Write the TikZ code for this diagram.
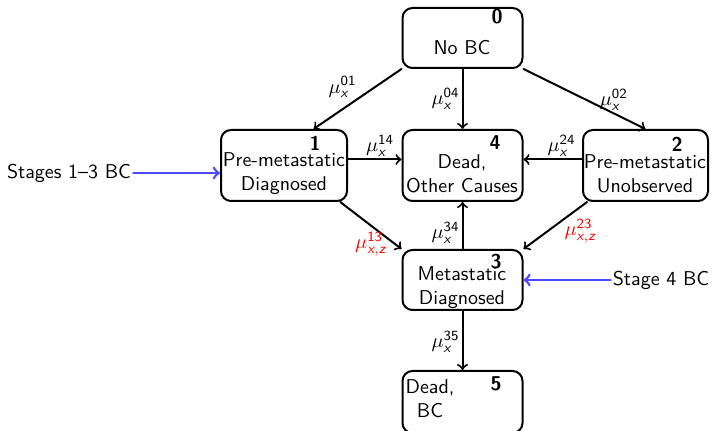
\documentclass[tikz,border=0pt]{standalone}
\usepackage{amsmath}
\tikzset{
  state/.style={draw, line width=1pt, rounded corners=5pt, minimum width=60pt, inner sep=0pt},
  txt/.style={align=center, font=\sffamily, inner sep=1pt},
  num/.style={font=\sffamily\bfseries, inner sep=1pt},
  rate/.style={font=\sffamily, inner sep=1pt},
  trans/.style={->, line width=1pt},
  entry/.style={->, line width=1.3pt, blue!70}
}
\newcommand{\sx}{\textsf{\itshape x}}
\newcommand{\sz}{\textsf{\itshape z}}
\newcommand{\rt}[2]{$\mu^{\textsf{#1}}_{#2}$}
\begin{document}
\begin{tikzpicture}[x=0.5pt, y=-0.5pt, line cap=round, line join=round]
    \useasboundingbox (0,0) rectangle (712,431);
    \node[state, minimum height=30pt] (s0) at (462.5,38) {};
    \node[state, minimum height=35.5pt, minimum width=63pt] (s1) at (284,165.5) {};
    \node[state, minimum height=35.5pt] (s4) at (462.5,165.5) {};
    \node[state, minimum height=35.5pt, minimum width=62.5pt] (s2) at (645.5,165.5) {};
    \node[state, minimum height=30pt] (s3) at (462.5,280) {};
    \node[state, minimum height=31pt] (s5) at (462.5,402) {};
    \node[txt] (t0) at (462,48) {No BC};
    \node[txt] (t1) at (284,174) {Pre-metastatic\\Diagnosed};
    \node[txt] (t4) at (462,174) {Dead,\\Other Causes};
    \node[txt] (t2) at (645,174) {Pre-metastatic\\Unobserved};
    \node[txt] (t3) at (462,288) {Metastatic\\Diagnosed};
    \node[txt] (t5) at (430,399) {Dead,\\BC};
    \foreach \n/\x/\y in {0/497/17, 1/315/143, 4/495/143, 2/677/144, 3/496/262, 5/496/384}
      \node[num] (n\n) at (\x,\y) {\n};
    % transitions
    \draw[trans] (s0.south west) -- (s1.51) node[rate, pos=0.5, above left=-1pt] (l01) {\rt{01}{\sx}};
    \draw[trans] (s0) -- (s4) node[rate, pos=0.5, left] (l04) {\rt{04}{\sx}};
    \draw[trans] (s0.south east) -- (s2.north) node[rate, pos=0.74, above] (l02) {\rt{02}{\sx}};
    \draw[trans] ([yshift=3pt]s1.east) -- ([yshift=3pt]s4.west) node[rate, pos=0.6, above] (l14) {\rt{14}{\sx}};
    \draw[trans] ([yshift=3pt]s2.west) -- ([yshift=3pt]s4.east) node[rate, pos=0.35, above] (l24) {\rt{24}{\sx}};
    \draw[trans] (s1.-33) -- (s3.north west) node[rate, red, pos=0.9, left=3pt] (l13) {\rt{13}{\sx,\sz}};
    \draw[trans] (s2.212) -- (s3.north east) node[rate, red, pos=0.62, right=7pt] (l23) {\rt{23}{\sx,\sz}};
    \draw[trans] (s3) -- (s4) node[rate, pos=0.35, left] (l34) {\rt{34}{\sx}};
    \draw[trans] (s3) -- (s5) node[rate, pos=0.52, left] (l35) {\rt{35}{\sx}};
    % entry points
    \node[txt] (e1) at (69,173) {Stages 1--3 BC};
    \node[txt] (e3) at (661,280) {Stage 4 BC};
    \draw[entry] (e1.east) -- (s1.west |- e1.east);
    \draw[entry] (e3.west) -- (s3.east);
  \end{tikzpicture}
\end{document}
